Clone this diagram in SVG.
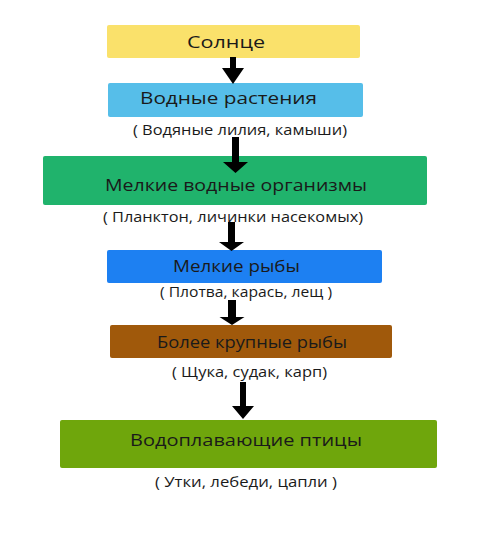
<svg xmlns="http://www.w3.org/2000/svg" width="477" height="541" viewBox="0 0 477 541">
<style>
.box{stroke:none}
.lbl{font-family:"Open Sans","Noto Sans","DejaVu Sans",sans-serif;font-size:17px;fill:#1a1a1a;text-anchor:middle}
.sub{font-family:"Open Sans","Noto Sans","DejaVu Sans",sans-serif;font-size:14px;fill:#1a1a1a;text-anchor:middle}
.arrow{fill:#000}
</style>
<rect width="477" height="541" fill="#fff"/>
<g id="sun">
<rect class="box" x="107" y="25" width="253" height="33" rx="2" fill="#fae16b"/>
<text class="lbl" x="226" y="48" textLength="78" lengthAdjust="spacingAndGlyphs">Солнце</text>
</g>
<g id="plants">
<rect class="box" x="108" y="83" width="255" height="34" rx="2" fill="#56bee9"/>
<text class="lbl" x="228.5" y="104" textLength="177" lengthAdjust="spacingAndGlyphs">Водные растения</text>
<text class="sub" x="240" y="135" textLength="214" lengthAdjust="spacingAndGlyphs">( Водяные лилия, камыши)</text>
</g>
<g id="organisms">
<rect class="box" x="43" y="156" width="384" height="49" rx="2" fill="#20b36c"/>
<text class="lbl" x="236" y="191" textLength="262" lengthAdjust="spacingAndGlyphs">Мелкие водные организмы</text>
<text class="sub" x="233" y="222" textLength="260" lengthAdjust="spacingAndGlyphs">( Планктон, личинки насекомых)</text>
</g>
<g id="small-fish">
<rect class="box" x="107" y="250" width="275" height="33" rx="2" fill="#1d80f2"/>
<text class="lbl" x="236.5" y="272" textLength="127" lengthAdjust="spacingAndGlyphs">Мелкие рыбы</text>
<text class="sub" x="246" y="297" textLength="172" lengthAdjust="spacingAndGlyphs">( Плотва, карась, лещ )</text>
</g>
<g id="big-fish">
<rect class="box" x="110" y="325" width="282" height="33" rx="2" fill="#a0590b"/>
<text class="lbl" x="252" y="348" textLength="190" lengthAdjust="spacingAndGlyphs">Более крупные рыбы</text>
<text class="sub" x="249.5" y="377" textLength="155" lengthAdjust="spacingAndGlyphs">( Щука, судак, карп)</text>
</g>
<g id="birds">
<rect class="box" x="60" y="420" width="377" height="48" rx="2" fill="#6fa60c"/>
<text class="lbl" x="246" y="446" textLength="232" lengthAdjust="spacingAndGlyphs">Водоплавающие птицы</text>
<text class="sub" x="246" y="487" textLength="182" lengthAdjust="spacingAndGlyphs">( Утки, лебеди, цапли )</text>
</g>
<g id="connectors">
<path class="arrow" d="M230,57 H236 V68 H244 L233,84 L222,68 H230 Z"/>
<path class="arrow" d="M232,137 H239 V162 H248 L235.5,173 L223,162 H232 Z"/>
<path class="arrow" d="M228,222 H235 V242 H244 L231.5,251 L219,242 H228 Z"/>
<path class="arrow" d="M228,300 H236 V317 H244.5 L232,325 L219.5,317 H228 Z"/>
<path class="arrow" d="M240,382 H246 V406 H254 L243,419 L232,406 H240 Z"/>
</g>
</svg>
